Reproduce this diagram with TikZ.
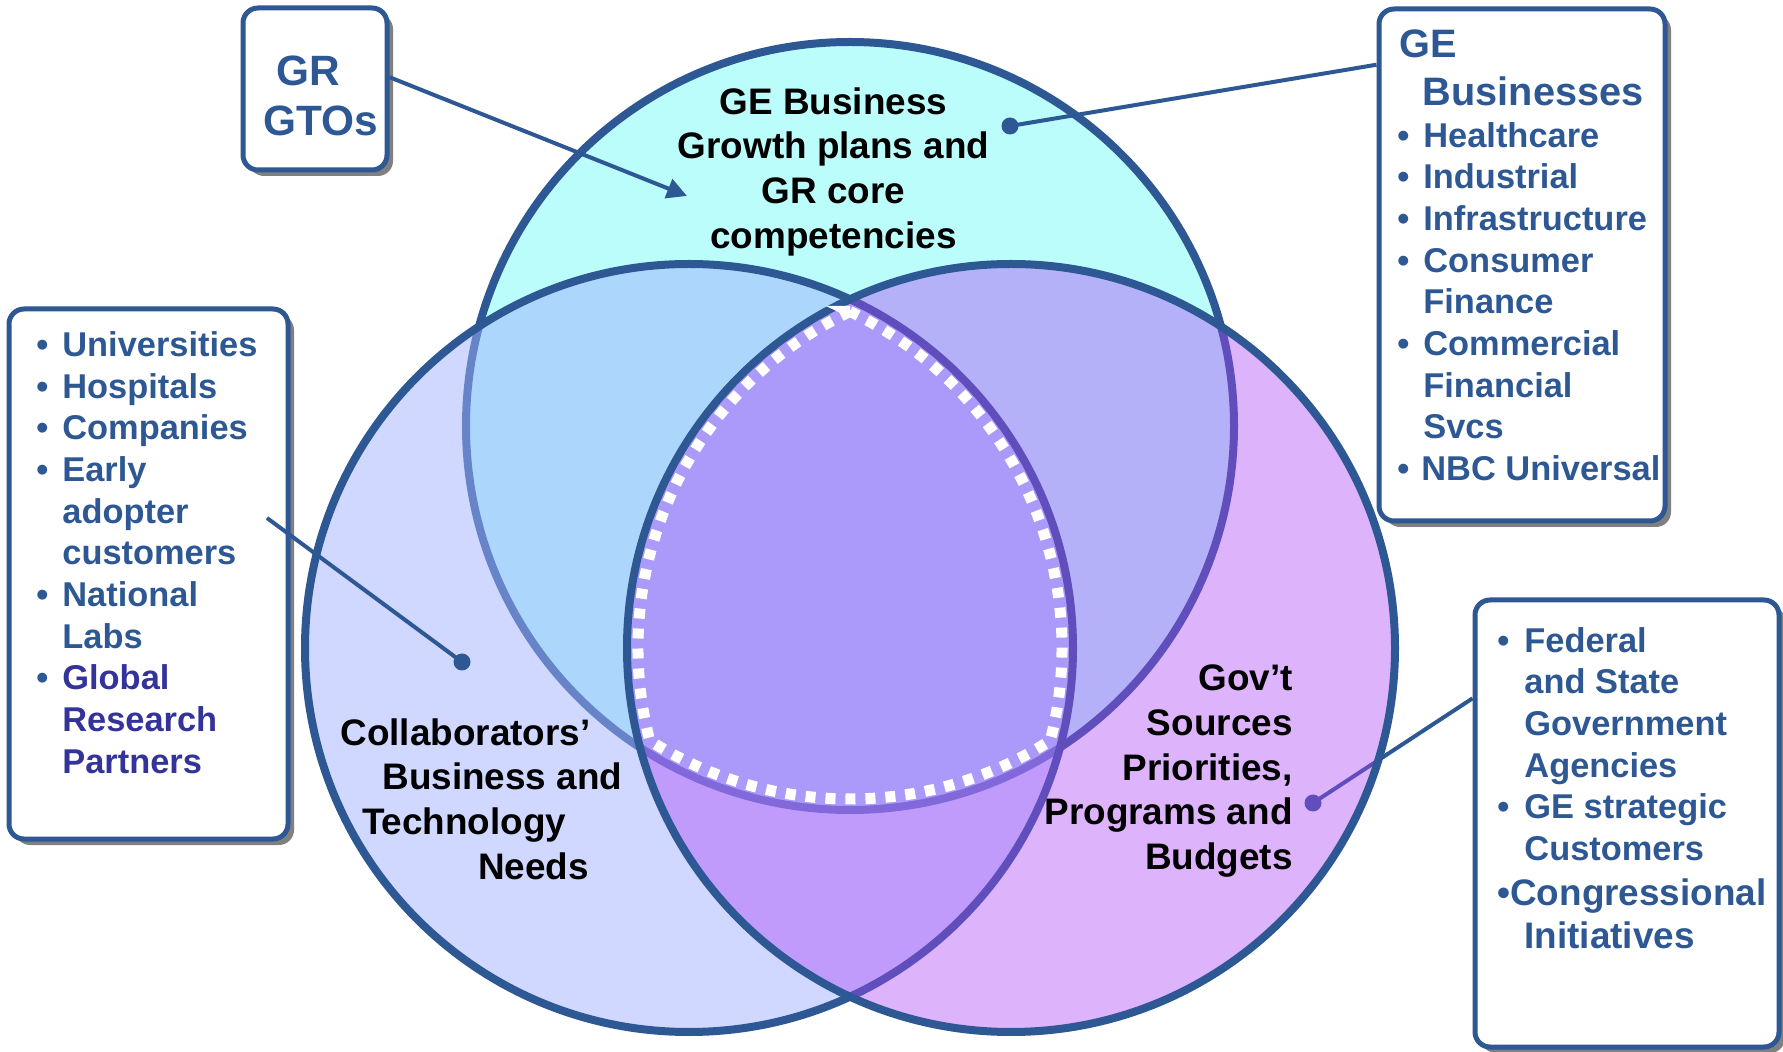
\documentclass[tikz,border=0pt]{standalone}
\usepackage{fontspec}
\setmainfont{Liberation Sans}
\usetikzlibrary{arrows.meta,shadows}
\definecolor{edgeblue}{RGB}{46,88,148}
\definecolor{topfill}{RGB}{187,253,250}
\definecolor{leftfill}{RGB}{161,177,255}
\definecolor{rightfill}{RGB}{170,65,247}
\definecolor{indigo}{RGB}{51,51,153}
\definecolor{shadowgray}{RGB}{128,128,128}
\tikzset{
  vennline/.style={draw=edgeblue, line width=4pt},
  infobox/.style={draw=edgeblue, line width=2.5pt, fill=white, rounded corners=7.5pt, inner sep=0pt,
     drop shadow={shadow xshift=3pt, shadow yshift=-3pt, fill=shadowgray, opacity=1}},
  conn/.style={draw=edgeblue, line width=2pt},
  listtext/.style={text=edgeblue, font=\bfseries\fontsize{17.2}{20.85}\selectfont, align=left, inner sep=0pt},
  vennlabel/.style={text=black, font=\bfseries\fontsize{18.45}{22.35}\selectfont, inner sep=0pt},
}
\newcommand{\bul}{\makebox[13pt][l]{•}}
\newcommand{\ind}{\hspace*{13pt}}
\begin{document}
\begin{tikzpicture}[x=0.5pt,y=-0.5pt]
\path[use as bounding box] (0,0) rectangle (1783,1052);
\coordinate (T) at (850,426);
\coordinate (L) at (689,648);
\coordinate (R) at (1011,648);

% boxes
\node[infobox, minimum width=72pt, minimum height=81pt] (gtobox) at (315,89) {};
\node[infobox, minimum width=143pt, minimum height=256pt] (gebox) at (1522,265) {};
\node[infobox, minimum width=139.5pt, minimum height=265pt] (leftbox) at (148.5,574) {};
\node[infobox, minimum width=152pt, minimum height=223.5pt] (govbox) at (1627,823.5) {};

% box texts
\node[text=edgeblue, font=\bfseries\fontsize{21.2}{25}\selectfont, align=center, inner sep=0pt] (gtotext) at (321,95.5) {GR\hspace*{0.6em}\\GTOs};
\node[text=edgeblue, font=\bfseries\fontsize{19.85}{24}\selectfont, align=left, inner sep=0pt, anchor=north west] (gehead) at (1399,29) {GE\\\hspace*{11.75pt}Businesses};
\node[listtext, anchor=north west] (gelist) at (1397,121.7)
  {\bul Healthcare\\\bul Industrial\\\bul Infrastructure\\\bul Consumer\\\ind Finance\\\bul Commercial\\\ind Financial\\\ind Svcs\\\makebox[12pt][l]{•}NBC Universal};
\node[listtext, anchor=north west] (leftlist) at (36,331)
  {\bul Universities\\\bul Hospitals\\\bul Companies\\\bul Early\\\ind adopter\\\ind customers\\\bul National\\\ind Labs\\\bul\textcolor{indigo}{Global}\\\ind\textcolor{indigo}{Research}\\\ind\textcolor{indigo}{Partners}};
\node[listtext, anchor=north west] (govlist) at (1497,626.7)
  {\makebox[13.5pt][l]{•}Federal\\\hspace*{13.5pt}and State\\\hspace*{13.5pt}Government\\\hspace*{13.5pt}Agencies\\\makebox[13.5pt][l]{•}GE strategic\\\hspace*{13.5pt}Customers};
\node[listtext, font=\bfseries\fontsize{18.45}{21.6}\selectfont, anchor=north west] (govlist2) at (1497,878.3)
  {•Congressional\\\hspace*{13.5pt}Initiatives};

% circles
\fill[topfill] (T) circle[radius=384];
\draw[vennline] (T) circle[radius=384];
\fill[leftfill, fill opacity=0.5] (L) circle[radius=384];
\draw[vennline] (L) circle[radius=384];

\coordinate (dotgov) at (1313,803);
\draw[conn] (govbox.141.4) -- (dotgov);
\fill[edgeblue] (dotgov) circle[radius=8.5];

\fill[rightfill, fill opacity=0.4] (R) circle[radius=384];
\draw[vennline] (R) circle[radius=384];

% dotted core
\draw[white, line width=5.5pt, dash pattern=on 5pt off 5pt]
  (850,311.5) arc[start angle=244.43, end angle=165.61, radius=373]
  arc[start angle=122.48, end angle=57.52, radius=373]
  arc[start angle=14.39, end angle=-64.43, radius=373] -- cycle;

% connectors
\coordinate (gtotip) at (687,196);
\draw[conn, -{Triangle[length=10pt,width=10pt]}] (gtobox.9.5) -- (gtotip);
\coordinate (dotge) at (1010,126);
\draw[conn] (gebox.126.5) -- (dotge);
\fill[edgeblue] (dotge) circle[radius=8.5];
\coordinate (leftstart) at (267,518);
\coordinate (dotleft) at (462,662);
\draw[conn] (leftstart) -- (dotleft);
\fill[edgeblue] (dotleft) circle[radius=8.5];

% venn labels
\node[vennlabel, align=center, anchor=north] (gebiz) at (833.5,87) {GE Business\\Growth plans and\\GR core\\competencies};
\node[vennlabel, align=left, anchor=north west] (collab) at (340,718)
  {Collaborators’\\\hspace*{21pt}Business and\\\hspace*{10.8pt}Technology\\\hspace*{68.8pt}Needs};
\node[vennlabel, align=right, anchor=north east] (gov) at (1293,664.5)
  {Gov’t\\Sources\\Priorities,\\Programs and\\Budgets};
\end{tikzpicture}
\end{document}
